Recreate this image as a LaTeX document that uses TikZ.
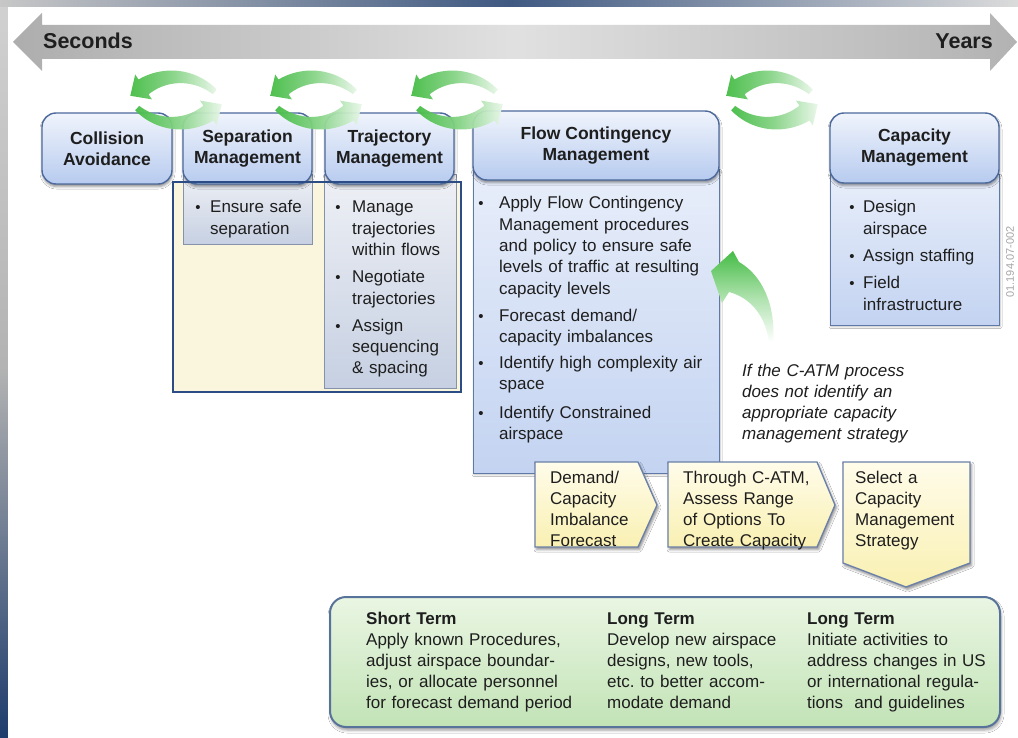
\documentclass[tikz,border=0pt]{standalone}
\usepackage{fontspec}
\setmainfont{Liberation Sans}
\usetikzlibrary{shadows.blur}
\frenchspacing

\definecolor{hdrline}{HTML}{4D6A9C}
\definecolor{hdrtop}{HTML}{F0F4FC}
\definecolor{hdrbot}{HTML}{B7CBEF}
\definecolor{bodytop}{HTML}{E8EEFA}
\definecolor{bodybot}{HTML}{C3D3F1}
\definecolor{colbodytop}{HTML}{EEF0F5}
\definecolor{colbodybot}{HTML}{C6D0E2}
\definecolor{colline}{HTML}{8592AA}
\definecolor{frameblue}{HTML}{2B4C85}
\definecolor{paleyellow}{HTML}{FAF6DE}
\definecolor{chevtop}{HTML}{FFFCEA}
\definecolor{chevbot}{HTML}{F9F0B2}
\definecolor{chevline}{HTML}{6B80A8}
\definecolor{greentop}{HTML}{EAF6E3}
\definecolor{greenbot}{HTML}{C2E3B6}
\definecolor{greenline}{HTML}{58739A}
\definecolor{arrowgreen}{HTML}{45BC45}
\definecolor{ink}{HTML}{1E1E1E}
\definecolor{skynavy}{HTML}{1E3C6C}

\newcommand\bodyfont{\fontsize{17}{21.3}\selectfont}
\newcommand\hdrfont{\fontsize{17.5}{21}\selectfont\bfseries}

% a pair of curved green arrows turning round a centre (x,y);
% each arrow is a tapering band on a circle of radius 58
\newcommand\cyclearcs[2]{%
  \foreach \sg in {1,-1}{%
    \shade[greenarrow]
      plot[domain=48:124, samples=24, variable=\t]
        ({#1+(\sg)*(58+3+6*(\t-48)/76)*cos(\t)},
         {#2+(\sg)*(35-(58+3+6*(\t-48)/76)*sin(\t))})
      -- ({#1+(\sg)*(-40.8)}, {#2+(\sg)*(-25.5)})
      -- ({#1+(\sg)*(-45.7)}, {#2+(\sg)*(-4.2)})
      -- ({#1+(\sg)*(-24.0)}, {#2+(\sg)*(-0.6)})
      -- plot[domain=124:48, samples=24, variable=\t]
        ({#1+(\sg)*(58-3-6*(\t-48)/76)*cos(\t)},
         {#2+(\sg)*(35-(58-3-6*(\t-48)/76)*sin(\t))})
      -- cycle;
  }%
}

\begin{document}
\begin{tikzpicture}[x=1pt, y=-1pt,
  hdr/.style={draw=hdrline, line width=1.4pt, rounded corners=14pt,
    top color=hdrtop, bottom color=hdrbot, align=center, font=\hdrfont,
    text=ink, inner sep=0pt,
    blur shadow={shadow xshift=0.5pt, shadow yshift=-2.5pt,
      shadow blur radius=2.5pt, shadow opacity=45}},
  bodyblue/.style={draw=hdrline!90, line width=1pt, top color=bodytop,
    bottom color=bodybot, inner sep=0pt,
    blur shadow={shadow xshift=1pt, shadow yshift=-1.5pt,
      shadow blur radius=2pt, shadow opacity=30}},
  bodygray/.style={draw=colline, line width=1pt, top color=colbodytop,
    bottom color=colbodybot, inner sep=0pt},
  btext/.style={anchor=base west, align=left, text width=300pt,
    font=\bodyfont, text=ink, inner sep=0pt},
  bul/.style={anchor=base, font=\fontsize{15}{15}\selectfont, text=ink,
    inner sep=0pt},
  chev/.style={draw=chevline, line width=1.3pt, top color=chevtop,
    bottom color=chevbot,
    blur shadow={shadow xshift=1.5pt, shadow yshift=-2.5pt,
      shadow blur radius=2.5pt, shadow opacity=45}},
  greenarrow/.style={left color=arrowgreen, right color=arrowgreen!12,
    middle color=arrowgreen!65, opacity=0.95}
]
\useasboundingbox (0,0) rectangle (1018,738);

% sky backdrop round the white panel
\shade[top color=black!18, bottom color=skynavy, middle color=black!30]
  (0,0) rectangle (1018,738);
\shade[left color=black!22, right color=black!14, middle color=skynavy!85]
  (0,0) rectangle (1018,7);
\fill[white] (8,7) rectangle (1018,738);

% time axis
\shade[left color=black!32, right color=black!30, middle color=black!12]
  (13,42) -- (42,13) -- (42,25) -- (990,25) -- (990,13) -- (1017,42)
  -- (990,71) -- (990,59) -- (42,59) -- (42,71) -- cycle;
\node[anchor=base west, inner sep=0pt, text=ink,
  font=\fontsize{21.5}{22}\selectfont\bfseries] (secs) at (43,49) {Seconds};
\node[anchor=base east, inner sep=0pt, text=ink,
  font=\fontsize{21.5}{22}\selectfont\bfseries] (years) at (993,49) {Years};

% separation / trajectory zone
\node[fill=paleyellow, minimum width=288pt, minimum height=210pt,
  inner sep=0pt] (sepzone) at (317,287) {};
\node[bodygray, minimum width=129pt, minimum height=70pt] (sepbody)
  at (247.5,210) {};
\node[bodygray, minimum width=132pt, minimum height=213pt] (trajbody)
  at (390,281.5) {};

% flow contingency and capacity bodies
\node[bodyblue, minimum width=246pt, minimum height=303pt] (flowbody)
  at (596,321.5) {};
\node[bodyblue, minimum width=169pt, minimum height=150pt] (capbody)
  at (914.5,250) {};

% domain headers
\node[hdr, minimum width=130pt, minimum height=71pt] (collhdr)
  at (107,148.5) {Collision\\Avoidance};
\node[hdr, minimum width=129pt, minimum height=71pt] (sephdr)
  at (247.5,148.5) {Separation\\Management};
\node[hdr, minimum width=129pt, minimum height=71pt] (trajhdr)
  at (389.5,148.5) {Trajectory\\Management};
\node[hdr, minimum width=246pt, minimum height=69pt] (flowhdr)
  at (596,145.5) {Flow Contingency\\Management};
\node[hdr, minimum width=169pt, minimum height=70pt] (caphdr)
  at (914.5,148) {Capacity\\Management};

\draw[frameblue, line width=2.5pt]
  (sepzone.north west) rectangle (sepzone.south east);

% hand-over cycles between neighbouring domains
\cyclearcs{176}{100}
\cyclearcs{316}{100}
\cyclearcs{457}{100}
\cyclearcs{772}{100}

% separation bullets
\node[bul] (sb1) at (198,213) {•};
\node[btext] (st1) at (210,213) {Ensure safe\\separation};

% trajectory bullets
\node[bul] (tb1) at (338,213) {•};
\node[btext] (tt1) at (352,213) {Manage\\trajectories\\within flows};
\node[bul] (tb2) at (338,283) {•};
\node[btext] (tt2) at (352,283) {Negotiate\\trajectories};
\node[bul] (tb3) at (338,331) {•};
\node[btext] (tt3) at (352,331) {Assign\\sequencing\\\& spacing};

% flow contingency bullets
\node[bul] (fb1) at (481,209) {•};
\node[btext] (ft1) at (499,209) {Apply Flow Contingency\\Management procedures\\and policy to ensure safe\\levels of traffic at resulting\\capacity levels};
\node[bul] (fb2) at (481,321) {•};
\node[btext] (ft2) at (499,321) {Forecast demand/\\capacity imbalances};
\node[bul] (fb3) at (481,368) {•};
\node[btext] (ft3) at (499,368) {Identify high complexity air\\space};
\node[bul] (fb4) at (481,418) {•};
\node[btext] (ft4) at (499,418) {Identify Constrained\\airspace};

% capacity bullets
\node[bul] (cb1) at (852,213) {•};
\node[btext] (ct1) at (863,213) {Design\\airspace};
\node[bul] (cb2) at (852,262) {•};
\node[btext] (ct2) at (863,262) {Assign staffing};
\node[bul] (cb3) at (852,289) {•};
\node[btext] (ct3) at (863,289) {Field\\infrastructure};

% process chevrons
\shade[chev] (535,462) -- (638,462) -- (657,505) -- (638,547) -- (535,547) -- cycle;
\shade[chev] (668,462) -- (817,462) -- (835,505) -- (817,547) -- (668,547) -- cycle;
\shade[chev] (843,462) -- (970,462) -- (970,563) -- (906,587) -- (843,563) -- cycle;
\node[btext, font=\fontsize{17}{21}\selectfont] (ch1) at (550,483)
  {Demand/\\Capacity\\Imbalance\\Forecast};
\node[btext, font=\fontsize{17}{21}\selectfont] (ch2) at (683,483)
  {Through C-ATM,\\Assess Range\\of Options To\\Create Capacity};
\node[btext, font=\fontsize{17}{21}\selectfont] (ch3) at (855,483)
  {Select a\\Capacity\\Management\\Strategy};

% strategy terms
\node[draw=greenline, line width=2pt, rounded corners=16pt,
  top color=greentop, bottom color=greenbot, inner sep=0pt,
  minimum width=670pt, minimum height=130pt,
  blur shadow={shadow xshift=1pt, shadow yshift=-3pt,
    shadow blur radius=3pt, shadow opacity=40}] (terms) at (665,662) {};
\node[btext, font=\fontsize{17}{21.2}\selectfont] (term1) at (366,624)
  {\textbf{Short Term}\\Apply known Procedures,\\adjust airspace boundar-\\ies, or allocate personnel\\for forecast demand period};
\node[btext, font=\fontsize{17}{21.2}\selectfont] (term2) at (607,624)
  {\textbf{Long Term}\\Develop new airspace\\designs, new tools,\\etc. to better accom-\\modate demand};
\node[btext, font=\fontsize{17}{21.2}\selectfont] (term3) at (807,624)
  {\textbf{Long Term}\\Initiate activities to\\address changes in US\\or international regula-\\tions\ \ and guidelines};

% feedback arrow back into flow contingency
\shade[top color=arrowgreen, bottom color=white, middle color=arrowgreen!45]
  (773,342) .. controls (776,305) and (762,275) .. (739,262)
  -- (733,251) -- (711,271) -- (722,303) -- (729,292)
  .. controls (752,298) and (766,318) .. (769,342) -- cycle;
\node[btext, font=\fontsize{17}{21}\selectfont\itshape] (note) at (742,376)
  {If the C-ATM process\\does not identify an\\appropriate capacity\\management strategy};

% drawing number
\node[rotate=90, inner sep=0pt, text=black!35,
  font=\fontsize{11}{11}\selectfont] (dwgno) at (1010,262) {01.194.07-002};
\end{tikzpicture}
\end{document}
